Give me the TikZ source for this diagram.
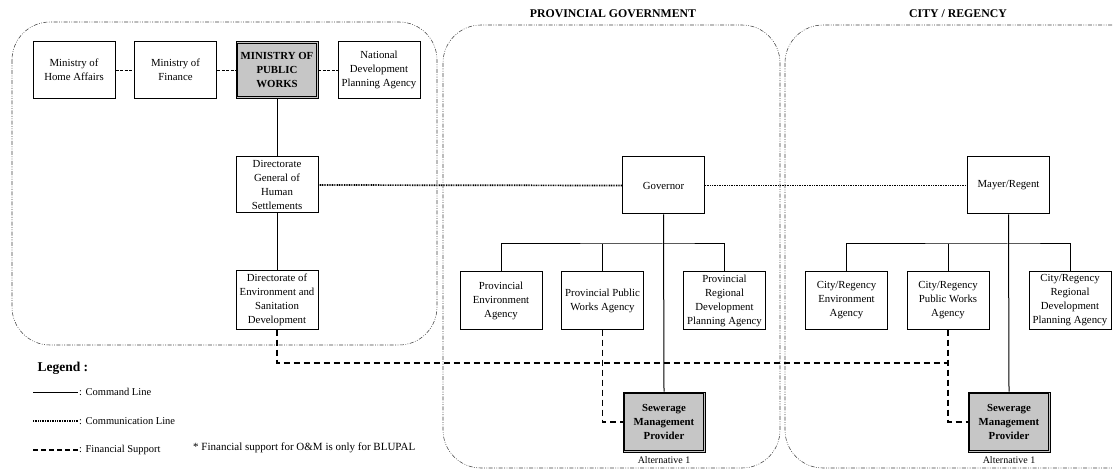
\documentclass[tikz,border=0pt]{standalone}
\usepackage{fontspec}
\setmainfont{Liberation Serif}
\begin{document}
\begin{tikzpicture}[x=1pt,y=-1pt,
  box/.style={draw,line width=1pt,minimum width=82pt,minimum height=57pt,align=center,inner sep=1pt,font=\fontsize{10.8}{14}\selectfont},
  dbox/.style={box,fill=gray!45,line width=0.8pt,font=\fontsize{10.8}{14}\selectfont\bfseries},
  inner/.style={line width=0.8pt},
  region/.style={draw=gray!50!black,line width=0.55pt,rounded corners=38pt,dash pattern=on 4pt off 1.5pt on 0.8pt off 1.5pt on 0.8pt off 1.5pt},
  cmd/.style={line width=1pt},
  comm/.style={line width=1.7pt,dash pattern=on 0.9pt off 0.8pt},
  fin/.style={line width=1.5pt,dash pattern=on 6pt off 4pt},
  mini/.style={line width=0.8pt,dash pattern=on 3pt off 1.5pt},
  ttl/.style={font=\fontsize{11.8}{13}\selectfont\bfseries},
  small/.style={font=\fontsize{10}{12}\selectfont},
  leg/.style={font=\fontsize{10.5}{12}\selectfont}]
\useasboundingbox (0,0) rectangle (1113,470);
% regions
\draw[region] (12,22) rectangle (437,345);
\draw[region] (443,25) rectangle (780,468);
\draw[region] (785,25) rectangle (1150,468);
\node[ttl] (tprov) at (613,14) {PROVINCIAL GOVERNMENT};
\node[ttl] (tcity) at (958,14) {CITY / REGENCY};
% nodes
\node[box] (mha) at (74,70) {Ministry of\\Home Affairs};
\node[box] (mof) at (175.5,70) {Ministry of\\Finance};
\node[dbox] (mpw) at (277,70) {MINISTRY OF\\PUBLIC\\WORKS};
\node[box] (ndpa) at (379,70) {National\\Development\\Planning Agency};
\node[box,minimum height=56pt] (dg) at (277,185) {Directorate\\General of\\Human\\Settlements};
\node[box,minimum height=58pt] (den) at (277,300) {Directorate of\\Environment and\\Sanitation\\Development};
\node[box] (gov) at (663.5,185.5) {Governor};
\node[box] (penv) at (501,300.5) {Provincial\\Environment\\Agency};
\node[box] (ppw) at (602.5,300.5) {Provincial Public\\Works Agency};
\node[box] (prd) at (724.5,300.5) {Provincial\\Regional\\Development\\Planning Agency};
\node[dbox,minimum height=60pt] (sew1) at (664,422) {Sewerage\\Management\\Provider};
\node[small] (alt1) at (664,460) {Alternative 1};
\node[box] (may) at (1008.5,185.5) {Mayer/Regent};
\node[box] (cenv) at (846.5,300.5) {City/Regency\\Environment\\Agency};
\node[box] (cpw) at (948,300.5) {City/Regency\\Public Works\\Agency};
\node[box] (crd) at (1070,300.5) {City/Regency\\Regional\\Development\\Planning Agency};
\node[dbox,minimum height=60pt] (sew2) at (1009,422) {Sewerage\\Management\\Provider};
\node[small] (alt2) at (1009,460) {Alternative 1};
% inner borders of double boxes
\foreach \n in {mpw,sew1,sew2}
  \draw[inner] ([shift={(2pt,2pt)}]\n.south west) rectangle ([shift={(-2pt,-2pt)}]\n.north east);
% ministry links
\draw[mini] (mha.east) -- (mof.west);
\draw[mini] (mof.east) -- (mpw.west);
\draw[mini] (mpw.east) -- (ndpa.west);
% command lines
\draw[cmd] (mpw.south) -- (dg.north);
\draw[cmd] (dg.south) -- (den.north);
\coordinate (bus1) at (663.5,244);
\coordinate (bus2) at (1008.5,244);
\draw[cmd] (gov.south) -- (sew1.north);
\draw[cmd] (penv.north) |- (bus1) -| (prd.north);
\draw[cmd] (ppw.north) -- (ppw.north |- bus1);
\draw[cmd] (may.south) -- (sew2.north);
\draw[cmd] (cenv.north) |- (bus2) -| (crd.north);
\draw[cmd] (cpw.north) -- (cpw.north |- bus2);
% communication
\draw[comm] (dg.east) -- (gov.west);
\draw[comm] (gov.east) -- (may.west);
% financial
\coordinate (fjoin) at (948,363);
\draw[fin] (den.south) |- (fjoin);
\draw[fin] (ppw.south) |- (sew1.west);
\draw[fin] (cpw.south) |- (sew2.west);
% legend
\node[anchor=west,font=\fontsize{13.5}{15}\selectfont\bfseries] (lg) at (34,368) {Legend :};
\coordinate (l1a) at (33,392); \coordinate (l1b) at (78,392);
\coordinate (l2a) at (33,421); \coordinate (l2b) at (78,421);
\coordinate (l3a) at (33,450); \coordinate (l3b) at (78,450);
\draw[cmd] (l1a) -- (l1b);
\draw[comm,line width=1.4pt] (l2a) -- (l2b);
\draw[fin,line width=1.2pt,dash pattern=on 5pt off 3pt] (l3a) -- (l3b);
\node[leg,anchor=west,inner sep=1pt] (lt1) at (l1b) {: Command Line};
\node[leg,anchor=west,inner sep=1pt] (lt2) at (l2b) {: Communication Line};
\node[leg,anchor=west,inner sep=1pt] (lt3) at (l3b) {: Financial Support};
\node[anchor=west,inner sep=0pt,font=\fontsize{11}{13}\selectfont] (note) at (193,448) {* Financial support for O\&M is only for BLUPAL};
\end{tikzpicture}
\end{document}
